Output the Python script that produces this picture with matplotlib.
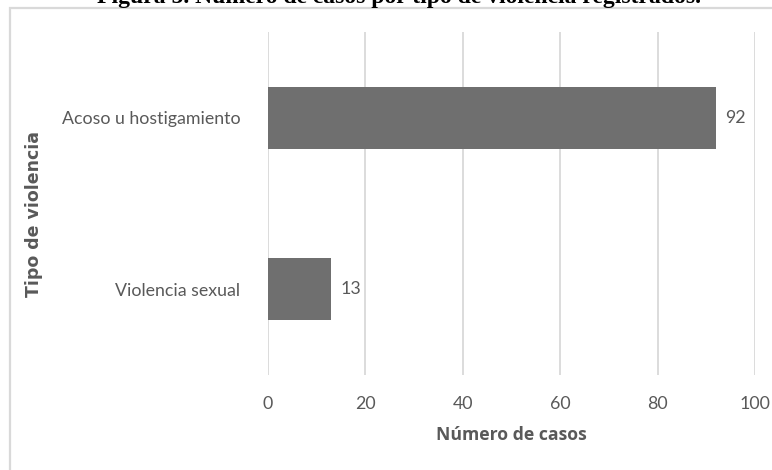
import matplotlib.pyplot as plt
from matplotlib.patches import Rectangle

categorias = ['Violencia sexual', 'Acoso u hostigamiento']
casos = [13, 92]
xticks = [0, 20, 40, 60, 80, 100]

titulo = 'Figura 5. Número de casos por tipo de violencia registrados.'

gris_texto = '#595959'
gris_barra = '#6f6f6f'
gris_linea = '#d9d9d9'
fuente = 'Lato'

fig = plt.figure(figsize=(7.72, 4.70), dpi=100)
fig.patch.set_facecolor('white')

# marco gris del gráfico (sale por la derecha y abajo)
fig.patches.append(Rectangle((10 / 772, -0.05), 1.0, 1 - 8 / 470 + 0.05,
                             transform=fig.transFigure, fill=False,
                             edgecolor=gris_linea, linewidth=1.6))

# título cortado en la parte superior, como en el original
fig.text(399 / 772, 1 - 3 / 470, titulo, ha='center', va='baseline',
         fontsize=17, fontweight='bold', family='Liberation Serif', color='black')

ax = fig.add_axes([268 / 772, 1 - 375 / 470, (755 - 268) / 772, (375 - 32) / 470])
ax.barh(range(len(categorias)), casos, height=0.36, color=gris_barra, zorder=3)

for i, v in enumerate(casos):
    ax.text(v + 1.9, i, str(v), va='center', ha='left', fontsize=12.8,
            family=fuente, color=gris_texto)

ax.set_xlim(0, 100)
ax.set_ylim(-0.5, 1.5)
ax.set_xticks(xticks)
ax.set_yticks(range(len(categorias)))
ax.set_yticklabels(categorias)
ax.grid(axis='x', color=gris_linea, linewidth=1.3, zorder=0)
for s in ax.spines.values():
    s.set_visible(False)
ax.tick_params(length=0, labelsize=12.8, colors=gris_texto)
ax.tick_params(axis='x', pad=15)
ax.tick_params(axis='y', pad=20)
for lab in ax.get_xticklabels() + ax.get_yticklabels():
    lab.set_family(fuente)

ax.set_xlabel('Número de casos', fontsize=12.7, fontweight='bold', color=gris_texto,
              family='Open Sans', labelpad=10)
fig.text(34 / 772, 1 - 214 / 470, 'Tipo de violencia', rotation=90, ha='center', va='center',
         fontsize=12.5, fontweight='bold', color=gris_texto, family='DejaVu Sans')

fig.savefig('out.png', dpi=100)
